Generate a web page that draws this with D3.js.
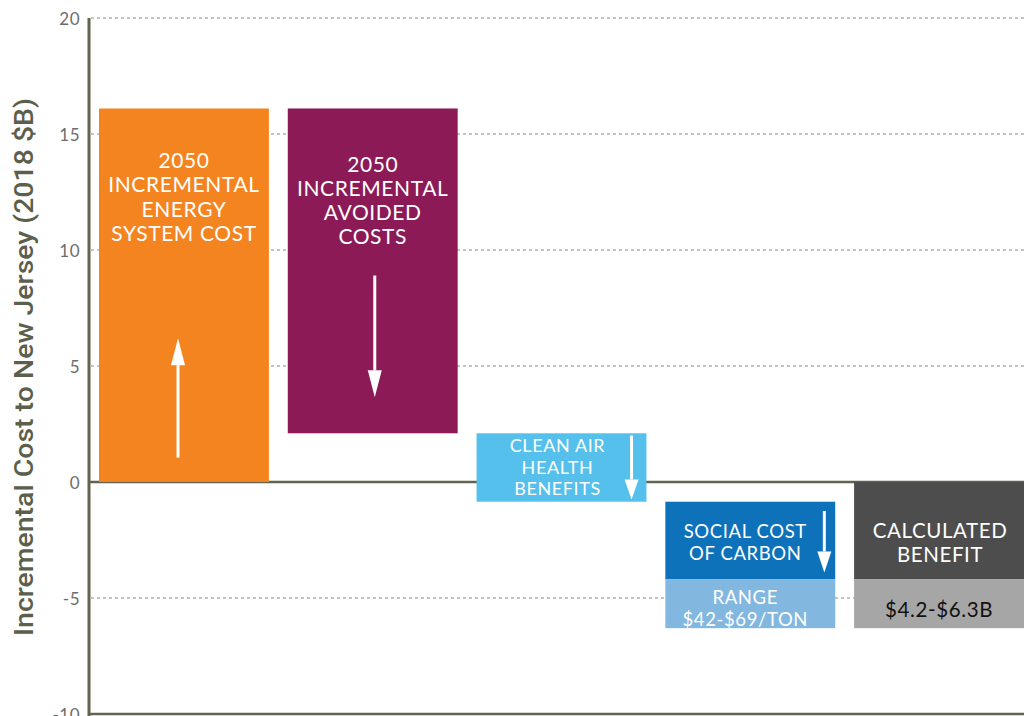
<!DOCTYPE html>
<html>
<head>
<meta charset="utf-8">
<script src="https://cdn.jsdelivr.net/npm/d3@7"></script>
<style>
  html, body { margin: 0; padding: 0; background: #fff; }
  svg { display: block; }
</style>
</head>
<body>
<svg id="chart" width="1024" height="716"></svg>
<script>
// Waterfall of 2050 costs and benefits for New Jersey (billions of 2018 dollars)
const categories = ["energy", "avoided", "health", "carbon", "benefit"];
const barStart   = [0,    16.1, 2.1,  -0.85, 0];      // where each step begins
const barEnd     = [16.1, 2.1,  -0.85, -4.2, -4.2];   // where the main block ends
const rangeEnd   = [null, null, null, -6.3, -6.3];    // low end of the uncertainty range
const barLabels = [
  ["2050", "INCREMENTAL", "ENERGY", "SYSTEM COST"],
  ["2050", "INCREMENTAL", "AVOIDED", "COSTS"],
  ["CLEAN AIR", "HEALTH", "BENEFITS"],
  ["SOCIAL COST", "OF CARBON"],
  ["CALCULATED", "BENEFIT"]
];
const rangeLabels = [null, null, null, ["RANGE", "$42-$69/TON"], ["$4.2-$6.3B"]];
const yTicks = [-10, -5, 0, 5, 10, 15, 20];
const yTitle = "Incremental Cost to New Jersey (2018 $B)";

const mainColors  = ["#F4841F", "#8B1A57", "#55C0EB", "#0E72BA", "#4D4D4D"];
const rangeColors = [null, null, null, "#82B8E0", "#A6A6A6"];
const rangeText   = [null, null, null, "#ffffff", "#111111"];

const svg = d3.select("#chart");
const W = 1024, H = 716;
const axisX = 89;

const y = d3.scaleLinear().domain([-10, 20]).range([714, 18]);
const x = d3.scaleBand().domain(categories).range([99, 1024]).paddingInner(0.1).paddingOuter(0);

const labelFont = "Lato, 'Open Sans', sans-serif";

// dotted gridlines
svg.append("g")
  .selectAll("line")
  .data(yTicks.filter(t => t !== 0 && t !== -10))
  .join("line")
  .attr("x1", axisX + 2).attr("x2", W)
  .attr("y1", d => y(d)).attr("y2", d => y(d))
  .attr("stroke", "#8a8a80")
  .attr("stroke-width", 1)
  .attr("stroke-dasharray", "3,3");

// tick labels via d3 axis
const yAxis = d3.axisLeft(y).tickValues(yTicks).tickFormat(d => String(d)).tickSize(0).tickPadding(0);
const gAxis = svg.append("g").attr("transform", `translate(${axisX - 9},0)`).call(yAxis);
gAxis.select(".domain").remove();
gAxis.selectAll("text")
  .attr("font-family", labelFont)
  .attr("font-size", 17)
  .attr("letter-spacing", 0.5)
  .attr("fill", "#6d6d6d")
  .attr("dy", "0.36em");

// zero line
svg.append("line")
  .attr("x1", axisX).attr("x2", W)
  .attr("y1", y(0)).attr("y2", y(0))
  .attr("stroke", "#63634f").attr("stroke-width", 2.5);

// bottom baseline
svg.append("line")
  .attr("x1", axisX).attr("x2", W)
  .attr("y1", y(-10)).attr("y2", y(-10))
  .attr("stroke", "#63634f").attr("stroke-width", 2.5);

// bars
const bars = svg.append("g");
categories.forEach((c, i) => {
  const x0 = x(c), bw = x.bandwidth();
  bars.append("rect")
    .attr("x", x0).attr("width", bw)
    .attr("y", y(Math.max(barStart[i], barEnd[i])))
    .attr("height", Math.abs(y(barStart[i]) - y(barEnd[i])))
    .attr("fill", mainColors[i]);
  if (rangeEnd[i] !== null) {
    bars.append("rect")
      .attr("x", x0).attr("width", bw)
      .attr("y", y(barEnd[i]))
      .attr("height", y(rangeEnd[i]) - y(barEnd[i]))
      .attr("fill", rangeColors[i]);
  }
});

// vertical axis line
svg.append("line")
  .attr("x1", axisX).attr("x2", axisX)
  .attr("y1", y(20)).attr("y2", H)
  .attr("stroke", "#63634f").attr("stroke-width", 3);

// text inside bars
function multiline(lines, cx, firstY, lh, size, color) {
  const t = svg.append("text")
    .attr("text-anchor", "middle")
    .attr("font-family", labelFont)
    .attr("font-size", size)
    .attr("letter-spacing", 0.6)
    .attr("fill", color);
  lines.forEach((l, k) => {
    t.append("tspan").attr("x", cx).attr("y", firstY + k * lh).attr("dy", "0.35em").text(l);
  });
}

const bw = x.bandwidth();
multiline(barLabels[0], x("energy") + bw / 2, y(13.85), 24.3, 21, "#fff");
multiline(barLabels[1], x("avoided") + bw / 2, y(13.7), 24.3, 21, "#fff");
multiline(barLabels[2], x("health") + bw / 2 - 4, y(1.55), 21.5, 18, "#fff");
multiline(barLabels[3], x("carbon") + bw / 2 - 5, y(-2.15), 22, 18.5, "#fff");
multiline(barLabels[4], x("benefit") + bw / 2 + 1, y(-2.1), 24, 20.5, "#fff");
multiline(rangeLabels[3], x("carbon") + bw / 2 - 5, y(-5.0), 21.5, 18.5, rangeText[3]);
multiline(rangeLabels[4], x("benefit") + bw / 2, y(-5.5), 22, 20.5, rangeText[4]);

// direction arrows
function arrow(cx, fromV, toV, head) {
  const y1 = y(fromV), y2 = y(toV);
  const dir = y2 < y1 ? -1 : 1;
  svg.append("line")
    .attr("x1", cx).attr("x2", cx)
    .attr("y1", y1).attr("y2", y2 - dir * head)
    .attr("stroke", "#fff").attr("stroke-width", 3);
  svg.append("path")
    .attr("d", `M${cx - 7},${y2 - dir * head} L${cx + 7},${y2 - dir * head} L${cx},${y2} Z`)
    .attr("fill", "#fff");
}
arrow(x("energy") + 79, 1.05, 6.2, 27);
arrow(x("avoided") + 87, 8.9, 3.65, 27);
arrow(x("health") + 155, 2.0, -0.75, 20);
arrow(x("carbon") + 159, -1.25, -3.9, 21);

// y-axis title
svg.append("text")
  .attr("transform", `translate(24, ${(98 + 636) / 2}) rotate(-90)`)
  .attr("text-anchor", "middle")
  .attr("dy", "0.35em")
  .attr("font-family", "Roboto, 'Liberation Sans', sans-serif")
  .attr("font-weight", 500)
  .attr("font-size", 25)
  .attr("textLength", 538)
  .attr("lengthAdjust", "spacingAndGlyphs")
  .attr("fill", "#5c5f4b")
  .text(yTitle);
</script>
</body>
</html>
